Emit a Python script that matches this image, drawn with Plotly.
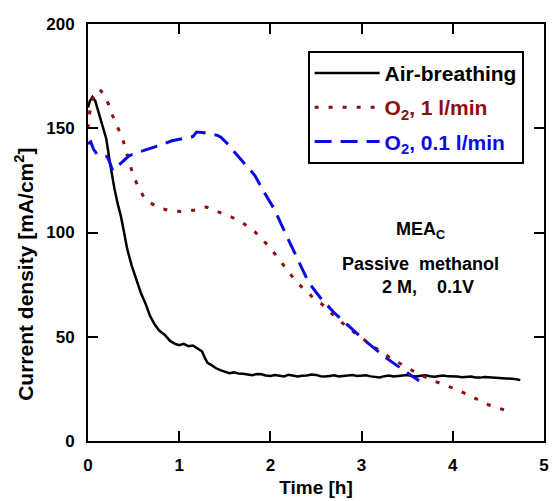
import plotly.graph_objects as go

# Current density [mA/cm2] vs time [h] for three cathode feeds
t_air = [0.00, 0.02, 0.05, 0.08, 0.12, 0.16, 0.20, 0.235, 0.27, 0.29, 0.33, 0.36, 0.40, 0.43,
         0.48, 0.53, 0.58, 0.63, 0.68, 0.73, 0.78, 0.84, 0.90, 0.96, 1.00, 1.05, 1.10, 1.15,
         1.20, 1.25, 1.28, 1.31, 1.35, 1.40, 1.45, 1.50, 1.55, 1.60, 1.65, 1.70, 1.75, 1.80,
         1.85, 1.90, 1.95, 2.00, 2.05, 2.10, 2.15, 2.20, 2.25, 2.30, 2.35, 2.40, 2.45, 2.50,
         2.55, 2.60, 2.65, 2.70, 2.75, 2.80, 2.85, 2.90, 2.95, 3.00, 3.05, 3.10, 3.15, 3.20,
         3.25, 3.30, 3.35, 3.40, 3.45, 3.50, 3.55, 3.60, 3.65, 3.70, 3.75, 3.80, 3.85, 3.90,
         3.95, 4.00, 4.05, 4.10, 4.15, 4.20, 4.25, 4.30, 4.35, 4.40, 4.45, 4.50, 4.55, 4.60,
         4.65, 4.70, 4.74]
j_air = [160.0, 163.0, 165.0, 163.0, 157.0, 151.0, 145.0, 135.0, 126.0, 121.0, 113.0, 108.0, 99.0, 92.0,
         84.0, 77.0, 71.0, 66.0, 60.0, 56.0, 53.0, 51.0, 48.0, 46.5, 46.0, 46.6, 45.5, 45.8,
         44.5, 43.0, 40.0, 37.5, 36.5, 35.0, 34.0, 33.2, 32.5, 32.9, 32.4, 32.3, 31.8, 31.6,
         32.1, 32.0, 31.4, 31.2, 31.7, 31.5, 31.0, 31.8, 31.2, 30.9, 31.3, 31.4, 31.9, 31.7,
         31.1, 30.9, 31.2, 31.5, 31.0, 31.2, 31.7, 31.6, 31.2, 31.3, 31.5, 31.0, 30.7, 30.5,
         31.1, 31.4, 31.0, 31.3, 31.6, 31.7, 31.2, 31.0, 31.3, 31.5, 31.1, 30.8, 31.2, 31.4,
         31.0, 31.1, 30.9, 30.6, 30.9, 30.9, 30.5, 30.4, 30.7, 30.6, 30.3, 30.2, 30.0, 29.9,
         29.8, 29.6, 29.2]

t_o2_high = [0.00, 0.02, 0.05, 0.09, 0.13, 0.18, 0.23, 0.27, 0.33, 0.38, 0.45, 0.50, 0.56, 0.62,
             0.67, 0.75, 0.81, 0.90, 1.03, 1.12, 1.18, 1.25, 1.30, 1.36, 1.43, 1.50, 1.57, 1.70,
             1.83, 1.97, 2.10, 2.20, 2.30, 2.45, 2.57, 2.75, 2.95, 3.15, 3.34, 3.50, 3.63, 3.80,
             4.03, 4.20, 4.36, 4.50, 4.61]
j_o2_high = [150.0, 158.0, 164.0, 167.5, 168.5, 166.0, 161.0, 156.0, 150.0, 145.0, 134.0, 127.0, 121.0, 116.5,
             114.6, 112.5, 111.4, 110.5, 110.0, 110.3, 110.8, 112.0, 112.2, 111.0, 109.8, 108.6, 107.5, 104.5,
             100.3, 94.0, 87.0, 81.0, 75.7, 69.5, 65.4, 58.0, 51.0, 44.7, 39.2, 35.2, 32.0, 28.7,
             24.9, 21.5, 17.8, 15.8, 14.3]

t_o2_low = [0.00, 0.03, 0.06, 0.10, 0.16, 0.21, 0.235, 0.27, 0.33, 0.40, 0.45, 0.55, 0.67, 0.80,
            0.92, 1.00, 1.10, 1.15, 1.19, 1.25, 1.36, 1.42, 1.46, 1.52, 1.61, 1.70, 1.83, 1.93,
            2.04, 2.15, 2.30, 2.42, 2.55, 2.70, 2.84, 3.00, 3.13, 3.28, 3.42, 3.55, 3.63]
j_o2_low = [142.5, 143.5, 140.0, 137.5, 136.8, 136.5, 134.0, 129.7, 132.0, 135.0, 136.8, 138.5, 140.0, 142.0,
            144.0, 144.8, 145.6, 146.0, 148.2, 148.0, 147.1, 146.6, 145.6, 143.0, 138.4, 133.7, 127.3, 119.4,
            111.4, 101.0, 87.0, 76.0, 68.6, 61.5, 55.9, 49.5, 44.8, 39.5, 35.2, 31.5, 28.9]

names = ["Air-breathing", "O<sub>2</sub>, 1 l/min", "O<sub>2</sub>, 0.1 l/min"]
colors = ["#000000", "#8e0d0d", "#0b0bde"]
dashes = ["solid", "4px,10px", "17px,9px"]
widths = [2.5, 3, 3]

x_ticks = [0, 1, 2, 3, 4, 5]
y_ticks = [0, 50, 100, 150, 200]

x_title = "Time [h]"
y_title = "Current density [mA/cm<sup>2</sup>]"

note_lines = ["MEA<sub>C</sub>", "Passive\u00a0\u00a0methanol", "2\u00a0M,\u00a0\u00a0\u00a0\u00a00.1V"]
note_x = [3.65, 3.65, 3.73]
note_y = [101, 85, 74]

FONT = "Arial, Liberation Sans, sans-serif"

fig = go.Figure()
series = [(t_air, j_air), (t_o2_high, j_o2_high), (t_o2_low, j_o2_low)]
for i, (tx, jy) in enumerate(series):
    fig.add_trace(go.Scatter(
        x=tx, y=jy, mode="lines",
        name=f'<span style="color:{colors[i]}">{names[i]}</span>',
        legendgroup=f"g{i}",
        line=dict(color=colors[i], width=widths[i], dash=dashes[i]),
    ))

for txt, xx, yy in zip(note_lines, note_x, note_y):
    fig.add_annotation(x=xx, y=yy, xref="x", yref="y", text=txt, showarrow=False,
                       font=dict(family=FONT, size=18, color="black", weight="bold"))

# y-axis title sits a little below the middle of the axis
fig.add_annotation(x=-0.139, y=0.40, xref="paper", yref="paper", text=y_title,
                   textangle=-90, showarrow=False, xanchor="center", yanchor="middle",
                   font=dict(family=FONT, size=21, color="black", weight="bold"))

axis_common = dict(
    showline=True, linecolor="black", linewidth=2, mirror="ticks",
    ticks="inside", ticklen=10, tickwidth=2, tickcolor="black",
    showgrid=False, zeroline=False,
    tickfont=dict(family=FONT, size=17, color="black", weight="bold"),
)

fig.update_xaxes(range=[0, 5], tickvals=x_ticks, ticklabelstandoff=8,
                 title=dict(text=x_title, standoff=6,
                            font=dict(family=FONT, size=19, color="black", weight="bold")),
                 **axis_common)
fig.update_yaxes(range=[0, 200], tickvals=y_ticks, ticklabelstandoff=8, **axis_common)

fig.update_layout(
    width=555, height=501,
    margin=dict(l=88, r=6, t=24, b=57),
    plot_bgcolor="white", paper_bgcolor="white",
    font=dict(family=FONT, color="black"),
    legend=dict(
        x=0.4816, y=0.9357, xanchor="left", yanchor="top",
        bgcolor="white", bordercolor="black", borderwidth=2,
        font=dict(family=FONT, size=21, weight="bold"),
        traceorder="grouped", tracegroupgap=4, itemwidth=65,
    ),
)

fig.write_html("out.html")
